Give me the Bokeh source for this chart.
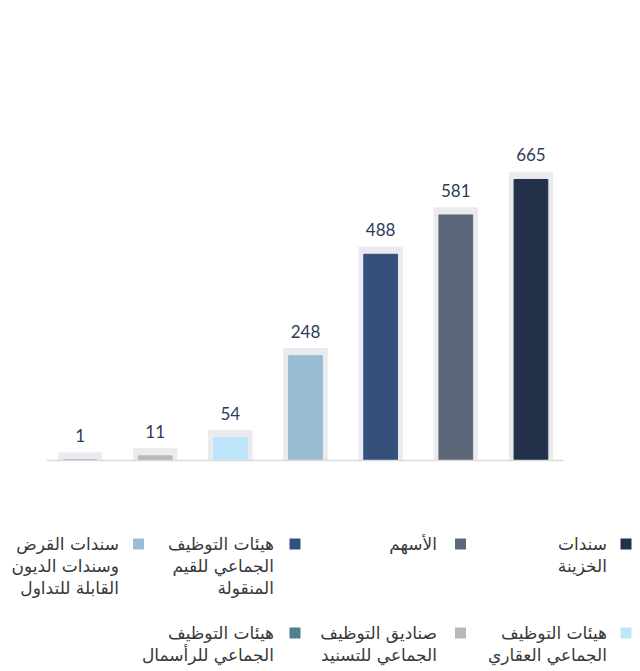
from bokeh.plotting import figure
from bokeh.models import Range1d, ColumnDataSource
from bokeh.embed import file_html
from bokeh.resources import INLINE
from bokeh.core.properties import value

# ---------------- data ----------------
categories = [
    "هيئات التوظيف\nالجماعي للرأسمال",
    "صناديق التوظيف\nالجماعي للتسنيد",
    "هيئات التوظيف\nالجماعي العقاري",
    "سندات القرض\nوسندات الديون\nالقابلة للتداول",
    "هيئات التوظيف\nالجماعي للقيم\nالمنقولة",
    "الأسهم",
    "سندات\nالخزينة",
]
values = [1, 11, 54, 248, 488, 581, 665]
colors = ["#4d7f8c", "#b9b9b9", "#bee6fb", "#98bcd1", "#34507b", "#5c6779", "#223149"]
value_labels = [str(v) for v in values]

# ---------------- styles / layout ----------------
BG_COLOR = "#ebebef"
LABEL_COLOR = "#2c3d5b"
TEXT_COLOR = "#383838"
W = 640
H = 671
PAD = 17          # data units the grey backdrop extends above the bar
LABEL_GAP = 58    # data units from bar top to label baseline

n = len(values)
positions = list(range(n))

src = ColumnDataSource(dict(
    x=positions,
    top=values,
    bg_top=[v + PAD for v in values],
    label_y=[v + LABEL_GAP for v in values],
    label=value_labels,
    color=colors,
))

p = figure(width=W, height=H, x_range=Range1d(-1.059, 7.458), y_range=Range1d(-499.3, 1088.5),
           output_backend="svg", toolbar_location=None, min_border=0)
p.extra_x_ranges = {"px": Range1d(0, W)}
p.extra_y_ranges = {"py": Range1d(H, 0)}
p.outline_line_color = None
p.xgrid.visible = False
p.ygrid.visible = False
p.xaxis.visible = False
p.yaxis.visible = False

p.vbar(x="x", top="bg_top", bottom=0, width=0.578, color=BG_COLOR, source=src)
p.vbar(x="x", top="top", bottom=0, width=0.449, color="color", source=src)
p.segment(x0=[-0.45], y0=[0], x1=[n - 1 + 0.43], y1=[0], line_color="#dcdce0", line_width=1.5)
p.text(x="x", y="label_y", text="label", source=src, text_align="center",
       text_baseline="alphabetic", text_font=value("Lato"), text_font_size="17px",
       text_color=LABEL_COLOR)

# ---------------- legend (right to left, 4 per row) ----------------
col_text_right = [606.5, 436.5, 273.5, 118.5]
col_square_x = [625.5, 460, 294.5, 138]
row_square_y = [543.5, 632.5]
row_text_y = [533, 622]
order = positions[::-1]
lx, ly, sx, sy, ltxt, lcol = [], [], [], [], [], []
for k, idx in enumerate(order):
    r, c = divmod(k, 4)
    lx.append(col_text_right[c])
    ly.append(row_text_y[r])
    sx.append(col_square_x[c])
    sy.append(row_square_y[r])
    ltxt.append(categories[idx])
    lcol.append(colors[idx])

p.scatter(x=sx, y=sy, marker="square", size=11, color=lcol, line_color=None,
          x_range_name="px", y_range_name="py")
p.text(x=lx, y=ly, text=ltxt, text_align="right", text_baseline="top",
       text_font=value("DejaVu Sans"), text_font_size="17px", text_color=TEXT_COLOR,
       text_line_height=1.1, x_range_name="px", y_range_name="py")

open("out.html", "w").write(file_html(p, INLINE))
